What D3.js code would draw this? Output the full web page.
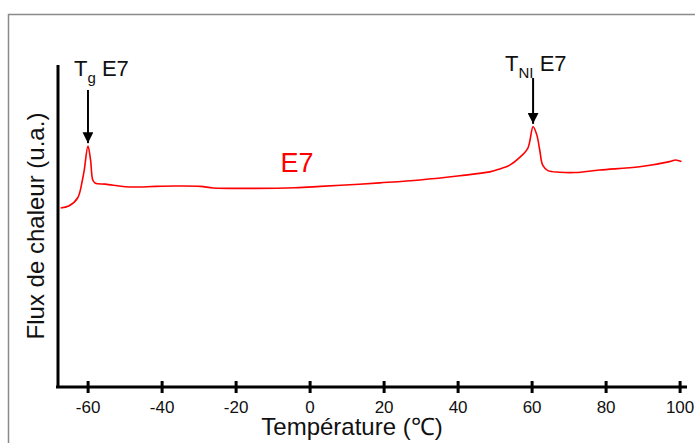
<!DOCTYPE html>
<html>
<head>
<meta charset="utf-8">
<script src="https://cdn.jsdelivr.net/npm/d3@7"></script>
<style>
  html, body { margin: 0; padding: 0; background: #fff; }
  svg { display: block; font-family: "Liberation Sans", Arial, sans-serif; }
</style>
</head>
<body>
<svg id="chart" width="695" height="443"></svg>
<script>
// ---- data ----
const temperature = [-67.3, -65.1, -62.7, -61.4, -60.9, -59.9, -59.2, -58.6, -57.9, -55.2, -49.8, -47.1, -41.6, -36.3, -29.5, -26.0, -14.7, -3.9, 2.9, 10.9, 19.0, 29.8, 40.6, 48.7, 51.4, 54.1, 56.8, 59.0, 60.4, 61.4, 62.2, 63.0, 64.4, 67.6, 71.7, 78.4, 89.2, 97.3, 98.9, 100.5];
const heatFlux    = [55.6, 56.2, 58.7, 64.3, 67.4, 74.8, 70.5, 64.3, 63.3, 63.0, 62.2, 62.1, 62.3, 62.4, 62.3, 61.8, 61.7, 61.9, 62.3, 62.8, 63.4, 64.3, 65.6, 66.8, 67.7, 68.9, 71.3, 74.2, 80.8, 78.3, 73.6, 68.9, 67.2, 66.7, 66.6, 67.4, 68.4, 70.0, 70.5, 70.0];
const xTicks = [-60, -40, -20, 0, 20, 40, 60, 80, 100];
const xTitle = "Température (℃)";
const yTitle = "Flux de chaleur (u.a.)";
const seriesName = "E7";
const transitions = [
  { T: -59.9, v: 74.8, main: "T", sub: "g", rest: " E7" },
  { T: 60.4, v: 80.8, main: "T", sub: "NI", rest: " E7" }
];

const svg = d3.select("#chart");

// frame
svg.append("rect").attr("x", 8.5).attr("y", 14.5).attr("width", 720).attr("height", 500)
  .attr("fill", "none").attr("stroke", "#8a8a8a").attr("stroke-width", 1.5);

const x = d3.scaleLinear().domain([-68, 102]).range([58, 687]);
const y = d3.scaleLinear().domain([0, 100]).range([387, 65]);

// y axis (line only)
svg.append("line").attr("x1", x(-68)).attr("x2", x(-68)).attr("y1", y(100)).attr("y2", y(0))
  .attr("stroke", "#000").attr("stroke-width", 3);

// x axis
const xAxis = svg.append("g").attr("transform", `translate(0,${y(0)})`)
  .call(d3.axisBottom(x).tickValues(xTicks).tickSizeOuter(0).tickSize(6).tickFormat(d => String(d)));
xAxis.select(".domain").attr("stroke", "#000").attr("stroke-width", 3)
  .attr("d", `M${x(-68) - 2},0H${x(102)}`);
xAxis.selectAll(".tick line").attr("y1", -6).attr("y2", 6).attr("stroke", "#000").attr("stroke-width", 3);
xAxis.selectAll(".tick text").attr("y", 14).attr("font-size", 17).attr("fill", "#111")
  .attr("font-family", '"Liberation Sans", Arial, sans-serif');

// axis titles
svg.append("text").attr("x", 352).attr("y", 435).attr("text-anchor", "middle")
  .attr("font-size", 24).attr("fill", "#111").text(xTitle);
svg.append("text").attr("transform", "translate(44,226) rotate(-90)").attr("text-anchor", "middle")
  .attr("font-size", 24).attr("fill", "#111").text(yTitle);

// curve
const data = temperature.map((t, i) => ({ t, v: heatFlux[i] }));
svg.append("path").datum(data)
  .attr("fill", "none").attr("stroke", "#ff0000").attr("stroke-width", 1.6)
  .attr("stroke-linejoin", "round")
  .attr("d", d3.line().x(d => x(d.t)).y(d => y(d.v)).curve(d3.curveCatmullRom.alpha(0.5)));

// series label
svg.append("text").attr("x", 297).attr("y", 172).attr("text-anchor", "middle")
  .attr("font-size", 27).attr("fill", "#ff0000").text(seriesName);

// arrows & labels
const defs = svg.append("defs");
defs.append("marker").attr("id", "arrowhead").attr("viewBox", "0 0 10 10")
  .attr("refX", 10).attr("refY", 5).attr("markerWidth", 11).attr("markerHeight", 11)
  .attr("markerUnits", "userSpaceOnUse").attr("orient", "auto")
  .append("path").attr("d", "M0,0L10,5L0,10Z").attr("fill", "#000");

const annY = [{ top: 90, lab: 76, dx: -14 }, { top: 78, lab: 70.5, dx: -28 }];
transitions.forEach((tr, i) => {
  const px = x(tr.T);
  const tipY = y(tr.v) - 3;
  svg.append("line").attr("x1", px).attr("x2", px).attr("y1", annY[i].top).attr("y2", tipY)
    .attr("stroke", "#000").attr("stroke-width", 2).attr("marker-end", "url(#arrowhead)");
  const t = svg.append("text").attr("x", px + annY[i].dx).attr("y", annY[i].lab)
    .attr("font-size", 22).attr("fill", "#111");
  t.append("tspan").text(tr.main);
  t.append("tspan").attr("font-size", 15).attr("dy", 7).text(tr.sub);
  t.append("tspan").attr("dy", -7).text(tr.rest);
});
</script>
</body>
</html>
